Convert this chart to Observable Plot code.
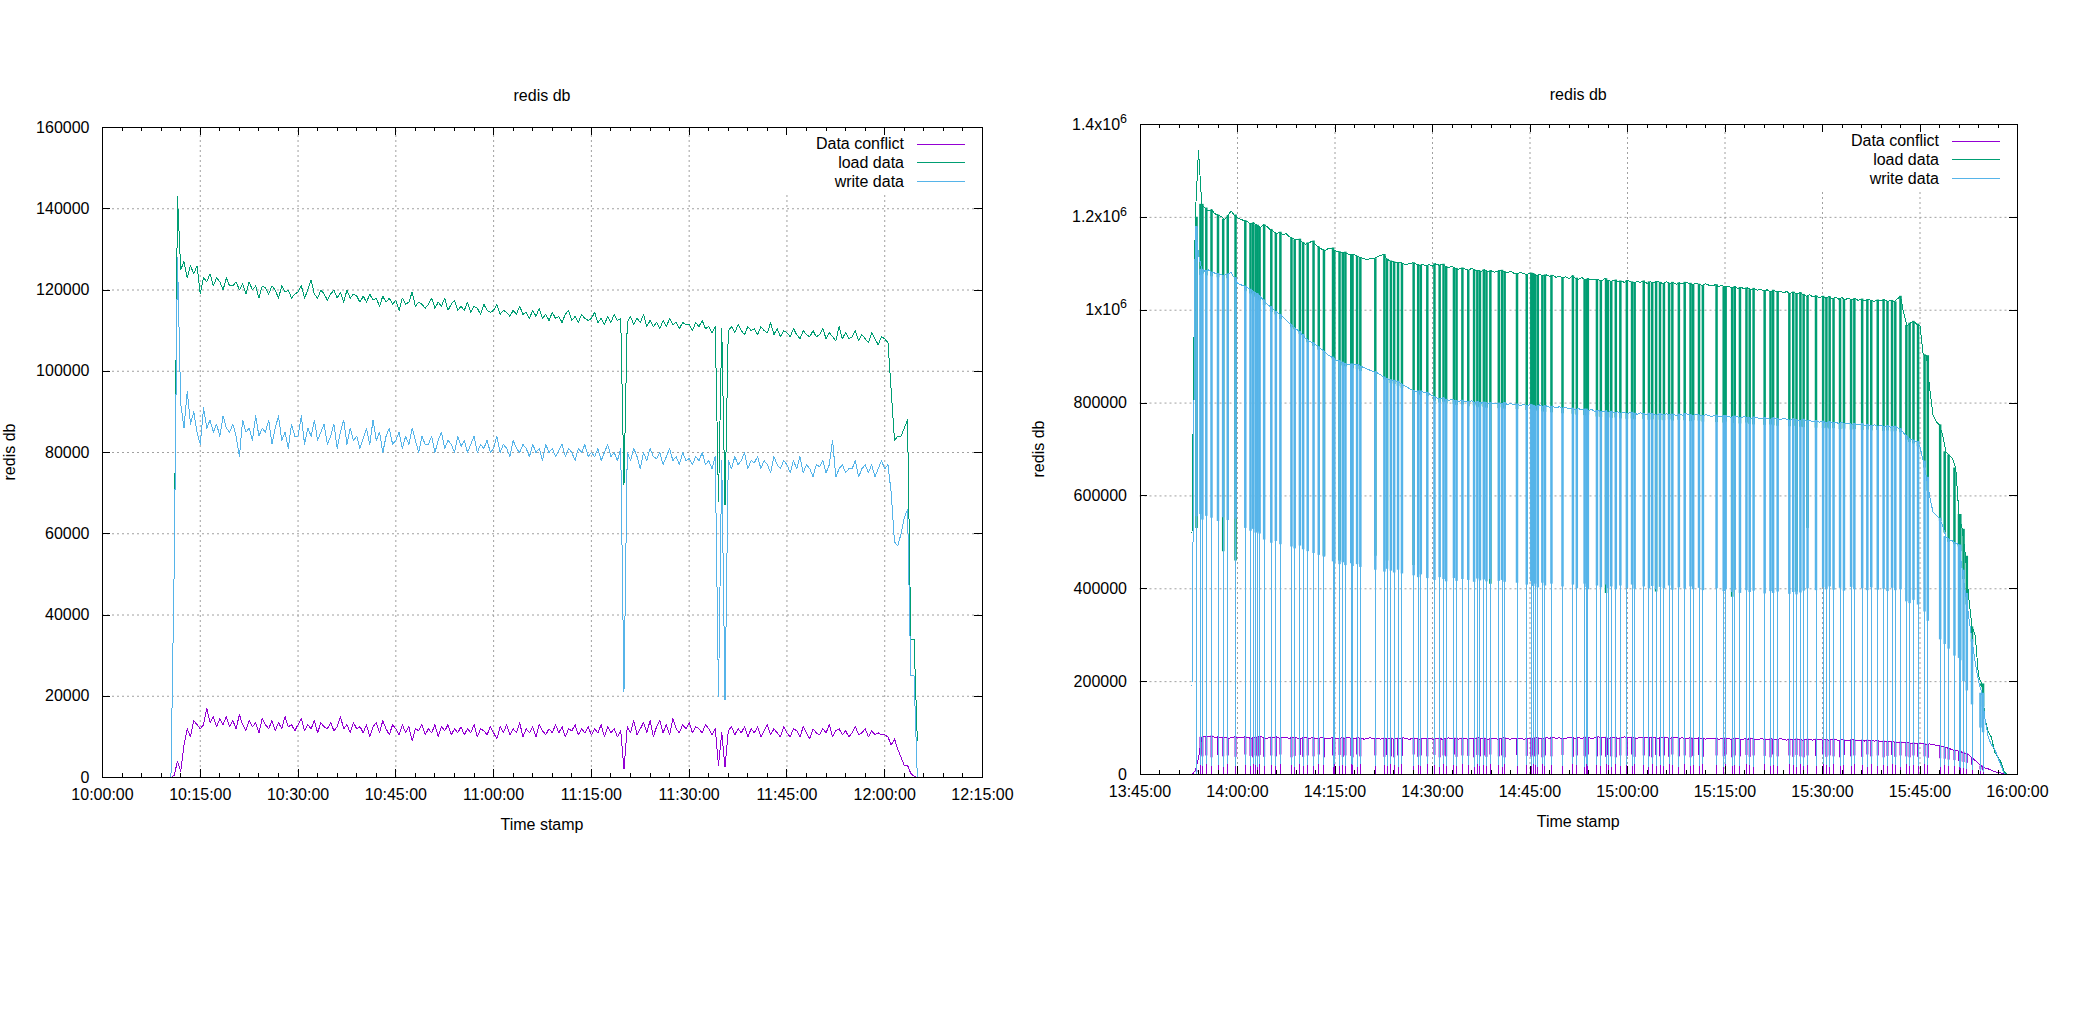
<!DOCTYPE html>
<html>
<head>
<meta charset="utf-8">
<script src="https://cdn.jsdelivr.net/npm/d3@7"></script>
<script src="https://cdn.jsdelivr.net/npm/@observablehq/plot@0.6"></script>
<style>
html,body{margin:0;padding:0;background:#fff;}
#wrap{position:relative;width:2100px;height:1024px;overflow:hidden;background:#fff;}
#wrap svg{position:absolute;top:0;}
</style>
</head>
<body>
<div id="wrap"></div>
<script>
// ---------------- texts ----------------
const chartTitle = "redis db";
const xAxisTitle = "Time stamp";
const yAxisTitle = "redis db";
const seriesNames = ["Data conflict", "load data", "write data"];
const seriesColors = ["#9400d3", "#009e73", "#56b4e9"];

// ---------------- left chart ----------------
const leftXTickLabels = ["10:00:00","10:15:00","10:30:00","10:45:00","11:00:00","11:15:00","11:30:00","11:45:00","12:00:00","12:15:00"];
const leftYTicks = [0,20000,40000,60000,80000,100000,120000,140000,160000];
const leftStartTime = "10:10:30";
const leftStepSeconds = 30;
// values in thousands, one sample every 30 s
const leftConflict = [0,0.5,4,1.5,8,12,10,14,13,
12,13,17,13.5,15,12.5,14.5,13,15,12.5,
14,12,15.5,13,11.5,14,12.5,13.5,11,14.5,
13,12,14,11.5,13.5,12,15,12.5,13,11.5,
13,14.5,11.5,13,12,14,11,13.5,12.5,12,
13.5,11.5,12.5,15,12,13,11,13.5,12,12.5,
11,13,10,12.5,13.5,11,14,12,10.5,13,
12,10.5,13,11,12.5,9,12,11.5,13,10.5,
12,11,13,10,12.5,11.5,13,10.5,12,11,
12.5,10.5,12,11,13,10,12,11.5,10.5,12.5,
11,9.5,12.5,11,13,10.5,12,11,13.5,10,
12,11,12.5,10,13,11.5,10.5,12,11,13,
11,12.5,10,12,11.5,13,10.5,12,11,12.5,
10.5,12,11,13,10,12.5,11,12,10,11.5,
2,
12.5,11,14,10.5,12,13.5,11,14,10,
12.5,14,11,13,10.5,14.5,12,11,13,12,
13.5,11,12.5,12,11,13,12,10.5,12,3,
11,2.5,
11.5,12.5,10.5,12,11,12.5,10,12,
11,12.5,10,11.5,13,10.5,12,11,10,12.5,
11,10,12,11.5,10,12.5,11,9.5,12,11,
10.5,12,11,13,10,11.5,12,10.5,11.5,10,
11,12.5,10.5,11,12,10,11.5,10.5,11,10.5,
10.5,10,8,9.5,7,5,3,3,1,0.3,0];
const leftLoad = [0,52,143,125,127,123,126,124,126,
119,123,122,124,121,123,122,120,123,121,
121,122,120,121.5,119,122,120,121,118,121,
120.5,119,121,120,118,121,119.5,120,118,119,
119.5,121,118,120,122.5,119,118,120,119,117.5,
119,120,118,119.5,117,120,118,119,118.5,117,
118.5,117,119,117.5,118,116,118.5,117,118,116.5,
117.5,115,118,116.5,117,119.5,116,117,116.5,115.5,
116.5,118,115.5,117,116,118,115,116.5,117.5,115,
116,115,117,114.5,116,115.5,114,116.5,115,114.5,
115,116.5,114,115,114.5,113.5,115,114,116,114,
114.5,113,115,113.5,115.5,113,114,112.5,114.5,113,
113.5,112,114,115,112.5,113.5,112,114,113,112.5,
113,114.5,112,113,111.5,113.5,112,114,112.5,113,
72,
112,113.5,111.5,113,112,114,111,112.5,111,
112,110.5,112.5,111,113,111.5,112,110.5,112,111.5,
111.5,110,112,111,112.5,110.5,111,109.5,111,68,
110.5,67,
110,111,109.5,111.5,110,109,111,110,
110.5,109,111,110,109.5,112,109,110.5,108.5,110,
109.5,108.5,110.5,109,108,110,109,108.5,110,108.5,
109,110.5,108,109.5,108.5,107.5,111,108,109.5,108,
108.5,110,107.5,109,108,107,109.5,108,106.5,108.5,
108,107,95,83,84,84,86,88,34,34,9];
const leftWrite = [0,52,128,92,86,95,87,90,85,
82,91,86,88,85,87,84,89,86,85,
87,84,79,88,85,86,83,89,84,86,
85,88,82,86,89,83,85,81,87,84,
84,89,82,86,84,88,83,85,87,82,
84,87,81,85,88,82,86,83,84,81,
83.5,86,82,88,83,85,80,84,86,82,
83,85,81,84,82,86,83,80,84,82,
82,84,80,83,85,81,83,82,80,84,
81.5,83,80,82,84,80,82,81,83,80,
81,84,80,82,81,79,83,81,80,82,
81,79,82,80,81,78,82,80,81,79,
80.5,82,79,81,80,78,81,80,82,79,
80,79,81,78,80,82,79,80,78,81,
21,
80,78,81,79,76,80,78,81,79,
78.5,80,77,79,81,78,79,77,80,78,
78.5,77,79,78,80,77,78,76,79,20,
78,19,
78,76,79,77,78,80,76,78,
77.5,79,76,78,77,75,79,77,76,78,
77,75,78,76,79,75,77,76,74,77,
76.5,78,75,77,83,74,76,77,75,76,
76,78,74,76,77,75,77,74,76,78,
76,77,70,58,57,60,64,66,25,25,0];

// ---------------- right chart ----------------
const rightXTickLabels = ["13:45:00","14:00:00","14:15:00","14:30:00","14:45:00","15:00:00","15:15:00","15:30:00","15:45:00","16:00:00"];
const rightYTicks = [0,200000,400000,600000,800000,1000000,1200000,1400000];
const rightYTickLabels = ["0","200000","400000","600000","800000","1x10^6","1.2x10^6","1.4x10^6"];
const rightStartTime = "13:53:00";
const rightStepSeconds = 30;
// values in thousands, one sample every 30 s (level between the short drops)
const rightConflict = [0,8,35,80,82,81,83,80,81,79,80,78,79,81,80,
79,81,80,78,79,80,82,79,78,80,79,81,78,80,79,
78,80,79,77,79,80,78,79,77,78,80,78,77,79,78,
77,79,78,80,78,77,79,78,76,78,79,77,78,76,78,
77,78,76,78,77,79,77,76,78,77,76,78,77,78,76,
77,78,76,77,79,77,78,76,78,77,76,78,77,79,77,
78,76,77,78,76,77,79,77,76,78,77,78,76,77,78,
77,79,78,77,79,78,80,78,79,77,78,80,79,78,79,
78,80,79,78,79,81,79,80,78,79,80,78,79,81,79,
80,79,78,80,79,81,79,80,78,79,80,79,78,80,79,
78,79,77,79,78,77,79,78,76,78,77,78,76,77,78,
77,76,78,77,75,77,76,78,76,75,77,76,75,77,76,
75,77,76,74,76,75,77,75,74,76,75,74,76,75,74,
75,74,76,75,73,75,74,73,75,74,73,74,72,74,73,
72,73,71,72,70,71,70,69,70,68,69,67,68,66,67,
66,65,66,64,63,62,60,58,56,53,52,50,48,45,42,
36,30,24,18,14,12,9,6,4,3,1,0];
const rightLoad = [520,1200,1345,1228,1220,1214,1216,1208,1205,1202,1196,1203,1214,1205,1199,
1196,1193,1191,1186,1188,1183,1178,1184,1181,1174,1170,1165,1168,1162,1165,
1158,1155,1151,1153,1146,1142,1145,1149,1141,1136,1131,1129,1133,1134,1128,
1126,1124,1125,1121,1119,1120,1116,1113,1111,1109,1112,1111,1115,1118,1120,
1110,1106,1104,1102,1103,1100,1098,1101,1102,1099,1097,1098,1096,1098,1095,
1100,1097,1099,1094,1092,1095,1090,1088,1091,1089,1086,1090,1087,1085,1084,
1087,1083,1085,1082,1084,1086,1083,1081,1084,1080,1078,1081,1079,1076,1080,
1079,1075,1077,1074,1076,1073,1075,1071,1073,1070,1072,1068,1074,1069,1067,
1070,1066,1068,1065,1067,1066,1063,1068,1064,1062,1065,1061,1063,1060,1064,
1061,1059,1062,1060,1063,1058,1061,1059,1062,1060,1057,1061,1058,1060,1056,
1059,1057,1060,1058,1055,1058,1056,1053,1057,1054,1052,1055,1051,1053,1050,
1052,1048,1051,1047,1049,1046,1048,1044,1047,1043,1045,1042,1044,1040,1043,
1039,1041,1038,1040,1036,1039,1035,1038,1034,1030,1033,1029,1031,1027,1030,
1026,1029,1025,1028,1024,1027,1023,1026,1022,1025,1021,1024,1020,1023,1021,
1019,1022,1020,1023,1019,1021,1018,1024,1030,993,967,972,976,970,966,
904,902,830,775,760,753,730,695,688,681,660,560,528,470,380,
318,300,212,195,120,92,80,47,38,25,5,0];
const rightWrite = [190,1180,1120,1088,1084,1087,1082,1080,1079,1076,1075,1078,1081,1070,1058,
1055,1052,1049,1045,1040,1035,1029,1022,1014,1008,1002,996,991,985,978,
972,966,960,954,947,939,934,930,926,921,915,909,903,899,894,
891,888,885,883,884,882,883,879,876,873,870,867,865,861,856,
852,850,849,847,843,839,835,831,827,825,826,824,823,820,816,
812,809,811,808,806,808,805,803,806,804,802,805,801,803,800,
802,799,801,798,800,799,801,797,799,796,798,795,797,794,797,
795,793,796,792,794,791,793,790,792,789,791,787,789,786,788,
785,787,784,786,782,784,781,783,780,782,779,781,778,780,777,
780,778,776,779,777,775,778,776,774,777,775,777,774,776,773,
776,774,777,775,773,776,774,772,775,773,771,774,772,770,773,
771,769,772,770,768,771,769,767,770,768,766,769,767,765,768,
766,764,767,765,763,766,764,762,765,761,763,760,762,759,761,
758,760,757,759,756,758,755,757,754,756,753,755,752,754,751,
753,750,752,749,751,748,750,747,745,735,728,722,720,717,705,
675,640,598,565,558,552,535,512,506,503,499,494,440,390,340,
290,240,202,175,120,80,64,55,36,18,0,0];

// short drops: minutes after 13:45:00 and the bottom of each drop (thousands)
const dipMinutes = [8.7,9.3,9.6,10.2,11.0,12.0,12.8,13.5,14.7,16.2,
17.0,17.4,17.8,18.1,18.4,19.1,20.2,20.9,21.6,23.3,
23.8,24.6,25.1,25.8,26.7,27.5,28.3,29.7,29.9,30.7,
31.2,31.6,32.5,32.7,33.4,33.9,36.2,37.6,38.0,38.6,
39.1,39.7,40.3,42.1,42.8,43.2,44.2,45.3,46.1,46.7,
47.1,48.3,48.7,49.6,50.5,51.4,51.9,52.3,52.9,53.3,
53.9,55.2,55.7,56.1,58.0,59.5,60.2,60.5,60.8,61.2,
61.9,62.3,63.3,65.0,66.6,67.2,68.4,68.7,68.9,70.3,
70.9,71.7,72.0,72.5,73.2,73.9,74.9,75.7,76.1,77.5,
78.3,78.8,79.4,80.0,80.6,81.4,81.9,82.9,83.8,84.7,
85.1,86.0,86.6,88.7,89.8,90.1,91.1,91.5,92.3,93.3,
93.8,94.4,96.1,97.0,97.4,98.1,99.9,100.5,101.0,101.6,
102.1,102.7,104.0,105.1,105.6,106.1,106.7,107.7,108.3,109.4,
109.9,111.1,111.9,112.5,113.5,114.4,115.0,115.7,116.2,117.0,
117.9,118.4,119.0,119.7,120.7,121.2,123.1,123.8,124.4,125.3,
126.0,126.2,126.7,127.2,128.0,129.3,129.7];
const dipWriteBand = [555,560,548,556,552,545,553,547,550,530,
524,528,520,522,518,505,498,502,495,490,
486,492,484,480,476,472,468,458,455,452,
456,450,454,448,452,446,440,436,442,438,
434,440,432,428,424,430,422,418,424,420,
415,422,416,420,418,414,421,417,419,415,
420,416,418,414,412,408,415,405,410,402,
412,406,410,404,408,400,410,403,398,406,
402,408,400,404,398,406,401,408,399,404,
400,405,398,403,400,406,397,402,399,404,
398,401,396,400,394,398,392,397,390,396,
392,395,389,394,390,393,388,392,387,391,
395,400,396,402,398,404,397,401,395,403,
398,400,396,402,397,399,394,401,396,398,
372,368,375,365,350,330,290,280,270,255,
250,245,200,180,150,100,90];
const dipWriteFloor = [0,20,18,22,17,19,16,21,18,20,
17,22,19,16,21,18,20,17,22,19,
16,21,18,20,17,22,19,16,21,18,
20,17,22,19,16,21,18,20,17,22,
19,16,21,18,20,17,22,19,16,21,
18,20,17,22,19,16,21,18,20,17,
22,19,16,21,18,20,17,22,19,16,
21,18,20,17,22,19,16,21,18,20,
17,22,19,16,21,18,20,17,22,19,
16,21,18,20,17,22,19,16,21,18,
20,17,22,19,16,21,18,20,17,22,
19,16,21,18,20,17,22,19,16,21,
18,20,17,22,19,16,21,18,20,17,
22,19,16,21,18,20,17,22,19,16,
21,18,20,17,22,19,16,20,18,17,
15,14,12,10,8,6,5];
const dipLoadFloor = [530,1075,1078,1074,1072,1070,480,1068,460,1040,
1035,1032,1028,1025,1020,1010,995,990,980,962,
958,948,940,930,922,914,470,893,890,460,
880,878,875,874,872,868,470,850,460,842,
840,836,832,450,818,816,814,804,800,802,
798,797,795,796,792,794,790,793,791,789,
410,788,790,787,786,784,786,783,782,785,
781,780,779,777,776,774,773,772,774,770,
769,390,768,767,768,766,765,766,764,765,
763,764,393,763,762,764,761,763,762,760,
762,761,759,758,757,759,382,756,755,757,
754,753,752,753,751,750,749,750,393,748,
747,530,746,745,746,744,745,743,744,742,
743,741,742,740,741,739,740,738,739,736,
720,715,712,706,660,610,545,520,500,495,
490,480,420,365,285,190,145];
const dipConflictBand = [5,42,38,40,36,41,38,40,37,42,
39,36,40,38,41,37,40,38,42,36,
39,41,37,40,38,42,36,40,38,41,
37,40,39,36,42,38,40,37,41,38,
36,40,39,42,37,40,38,41,36,40,
38,42,37,40,39,36,41,38,40,37,
42,38,40,36,41,39,37,40,38,42,
36,40,38,41,37,40,39,36,42,38,
40,37,41,38,36,40,39,42,37,40,
38,36,41,38,40,37,42,38,40,36,
39,41,37,40,38,42,36,40,38,41,
37,40,39,36,42,38,40,37,41,38,
36,40,39,42,37,40,38,36,41,38,
40,37,42,38,40,36,39,41,37,40,
38,36,40,37,38,35,34,33,31,30,
28,27,26,24,20,10,8];
const dipConflictFloor = [0,0,1,0,0,1,0,0,0,1,
0,0,0,1,0,0,0,1,0,0,
0,1,0,0,0,1,0,0,0,1,
0,0,0,1,0,0,0,1,0,0,
0,1,0,0,0,1,0,0,0,1,
0,0,0,1,0,0,0,1,0,0,
0,1,0,0,0,1,0,0,0,1,
0,0,0,1,0,0,0,1,0,0,
0,1,0,0,0,1,0,0,0,1,
0,0,0,1,0,0,0,1,0,0,
0,1,0,0,0,1,0,0,0,1,
0,0,0,1,0,0,0,1,0,0,
0,1,0,0,0,1,0,0,0,1,
0,0,0,1,0,0,0,1,0,0,
0,1,0,0,0,1,0,0,0,1,
0,0,0,0,0,0,0];

// ---------------- helpers ----------------
function clock(s) {
  const [h, m, sec] = s.split(":").map(Number);
  return new Date(Date.UTC(2000, 0, 1, h, m, sec));
}
const FONT = "'Liberation Sans', Arial, Helvetica, sans-serif";
const fmtTime = d3.utcFormat("%H:%M:%S");

function seriesRows(start, step, conflict, load, write) {
  const t0 = +clock(start);
  return load.map((v, i) => ({
    t: new Date(t0 + i * step * 1000),
    conflict: conflict[i] * 1000,
    load: v * 1000,
    write: write[i] * 1000
  }));
}

function buildChart(cfg) {
  const H = 1024;
  const {width, ml, mr, mt, mb, xTicks, yTicks, yFormat, rows, dips, titleY, xLabelY, yLabelX} = cfg;
  const fw = width - ml - mr, fh = H - mt - mb;
  const x0 = xTicks[0], x1 = xTicks[xTicks.length - 1];
  const yMax = yTicks[yTicks.length - 1];
  const msPerPx = (x1 - x0) / fw, valPerPx = yMax / fh;
  const major = 8, minor = 4;
  const minorTicks = d3.utcMinute.every(3).range(x0, x1).filter(d => (d - x0) % (15 * 60000) !== 0);
  const keyBottom = yMax - 65 * valPerPx;
  const gridX = xTicks.slice(1, -1);
  const gridY = yTicks.slice(1, -1);
  const grid = {stroke: "#a0a0a0", strokeWidth: 1, strokeDasharray: "2,3"};
  const blk = {stroke: "black", strokeWidth: 1, shapeRendering: "crispEdges"};
  const crisp = "crispEdges";

  const marks = [
    Plot.ruleY(gridY, {y: d => d, ...grid}),
    Plot.ruleX(gridX, {x: d => d, y1: 0, y2: d => ((d - x0) / msPerPx > fw - 200 ? keyBottom : yMax), ...grid}),
    Plot.line(rows, {x: "t", y: "conflict", stroke: seriesColors[0], strokeWidth: 1, shapeRendering: crisp})
  ];
  if (dips) {
    marks.push(
      Plot.ruleX(dips, {x: "t", y1: "cLow", y2: "cTop", stroke: seriesColors[0], strokeWidth: 1, shapeRendering: crisp}),
      Plot.ruleX(dips, {x: "t", y1: "cMid", y2: "cTop", stroke: seriesColors[0], strokeWidth: 2})
    );
  }
  marks.push(Plot.line(rows, {x: "t", y: "load", stroke: seriesColors[1], strokeWidth: 1, shapeRendering: crisp}));
  if (dips) {
    marks.push(Plot.ruleX(dips, {x: "t", y1: "lLow", y2: "lTop", stroke: seriesColors[1], strokeWidth: 2.5}));
  }
  marks.push(Plot.line(rows, {x: "t", y: "write", stroke: seriesColors[2], strokeWidth: 1, shapeRendering: crisp}));
  if (dips) {
    marks.push(
      Plot.ruleX(dips, {x: "t", y1: "wLow", y2: "wTop", stroke: seriesColors[2], strokeWidth: 1, shapeRendering: crisp}),
      Plot.ruleX(dips, {x: "t", y1: "wMid", y2: "wTop", stroke: seriesColors[2], strokeWidth: 2.5})
    );
  }
  marks.push(
    Plot.ruleX(xTicks, {x: d => d, y1: 0, y2: major * valPerPx, ...blk}),
    Plot.ruleX(xTicks, {x: d => d, y1: yMax - major * valPerPx, y2: yMax, ...blk}),
    Plot.ruleX(minorTicks, {x: d => d, y1: 0, y2: minor * valPerPx, ...blk}),
    Plot.ruleX(minorTicks, {x: d => d, y1: yMax - minor * valPerPx, y2: yMax, ...blk}),
    Plot.ruleY(yTicks, {y: d => d, x1: x0, x2: new Date(+x0 + major * msPerPx), ...blk}),
    Plot.ruleY(yTicks, {y: d => d, x1: new Date(+x1 - major * msPerPx), x2: x1, ...blk}),
    Plot.frame({stroke: "black", strokeWidth: 1, shapeRendering: crisp})
  );

  const svg = Plot.plot({
    width, height: H,
    marginLeft: ml, marginRight: mr, marginTop: mt, marginBottom: mb,
    style: {fontFamily: FONT, fontSize: "16px", color: "black", background: "transparent", overflow: "visible"},
    x: {type: "utc", domain: [x0, x1], ticks: xTicks, tickFormat: fmtTime, tickSize: 0, tickPadding: 11, label: null},
    y: {domain: [0, yMax], ticks: yTicks, tickFormat: yFormat, tickSize: 0, tickPadding: 13, label: null},
    marks
  });

  const s = d3.select(svg);
  // superscript exponents in tick labels
  s.selectAll("text").each(function () {
    const m = /^(.*x10)\^(\d+)$/.exec(this.textContent);
    if (m) {
      const el = d3.select(this);
      el.text(null);
      el.append("tspan").text(m[1]);
      el.append("tspan").attr("dy", "-0.55em").attr("font-size", "0.78em").text(m[2]);
    }
  });
  const g = s.append("g").attr("font-family", FONT).attr("font-size", 16).attr("fill", "black");
  const cx = ml + fw / 2;
  g.append("text").attr("x", cx).attr("y", titleY).attr("dy", "0.35em").attr("text-anchor", "middle").text(chartTitle);
  g.append("text").attr("x", cx).attr("y", xLabelY).attr("dy", "0.35em").attr("text-anchor", "middle").text(xAxisTitle);
  g.append("text").attr("transform", `translate(${yLabelX},${mt + fh / 2}) rotate(-90)`)
    .attr("dy", "0.35em").attr("text-anchor", "middle").text(yAxisTitle);
  seriesNames.forEach((name, k) => {
    const y = mt + 16.5 + k * 18.75;
    g.append("text").attr("x", ml + fw - 78).attr("y", y).attr("dy", "0.35em").attr("text-anchor", "end").text(name);
    g.append("line").attr("x1", ml + fw - 65).attr("x2", ml + fw - 17).attr("y1", Math.round(y) + 0.5).attr("y2", Math.round(y) + 0.5)
      .attr("stroke", seriesColors[k]).attr("stroke-width", 1);
  });
  return svg;
}

// ---------------- build ----------------
const wrap = document.getElementById("wrap");

const leftRows = seriesRows(leftStartTime, leftStepSeconds, leftConflict, leftLoad, leftWrite);
const leftSvg = buildChart({
  width: 1040, ml: 102, mr: 58, mt: 127, mb: 247,
  xTicks: leftXTickLabels.map(clock), yTicks: leftYTicks, yFormat: d => String(d),
  rows: leftRows, dips: null, titleY: 95, xLabelY: 824, yLabelX: 9
});
leftSvg.style.left = "0px";
wrap.appendChild(leftSvg);

const rightRows = seriesRows(rightStartTime, rightStepSeconds, rightConflict, rightLoad, rightWrite);
const rStart = +clock(rightStartTime);
const base1345 = +clock(rightXTickLabels[0]);
const rightDips = dipMinutes.map((m, k) => {
  const t = base1345 + m * 60000;
  const j = Math.max(0, Math.min(rightLoad.length - 1, Math.round((t - rStart) / (rightStepSeconds * 1000))));
  return {
    t: new Date(t),
    wTop: rightWrite[j] * 1000, wMid: dipWriteBand[k] * 1000, wLow: dipWriteFloor[k] * 1000,
    lTop: rightLoad[j] * 1000, lLow: dipLoadFloor[k] * 1000,
    cTop: rightConflict[j] * 1000, cMid: dipConflictBand[k] * 1000, cLow: dipConflictFloor[k] * 1000
  };
});
const rightSvg = buildChart({
  width: 1100, ml: 139.5, mr: 83, mt: 124, mb: 250,
  xTicks: rightXTickLabels.map(clock), yTicks: rightYTicks,
  yFormat: d => rightYTickLabels[rightYTicks.indexOf(d)],
  rows: rightRows, dips: rightDips, titleY: 94, xLabelY: 821, yLabelX: 38.5
});
rightSvg.style.left = "1000px";
wrap.appendChild(rightSvg);
</script>
</body>
</html>
